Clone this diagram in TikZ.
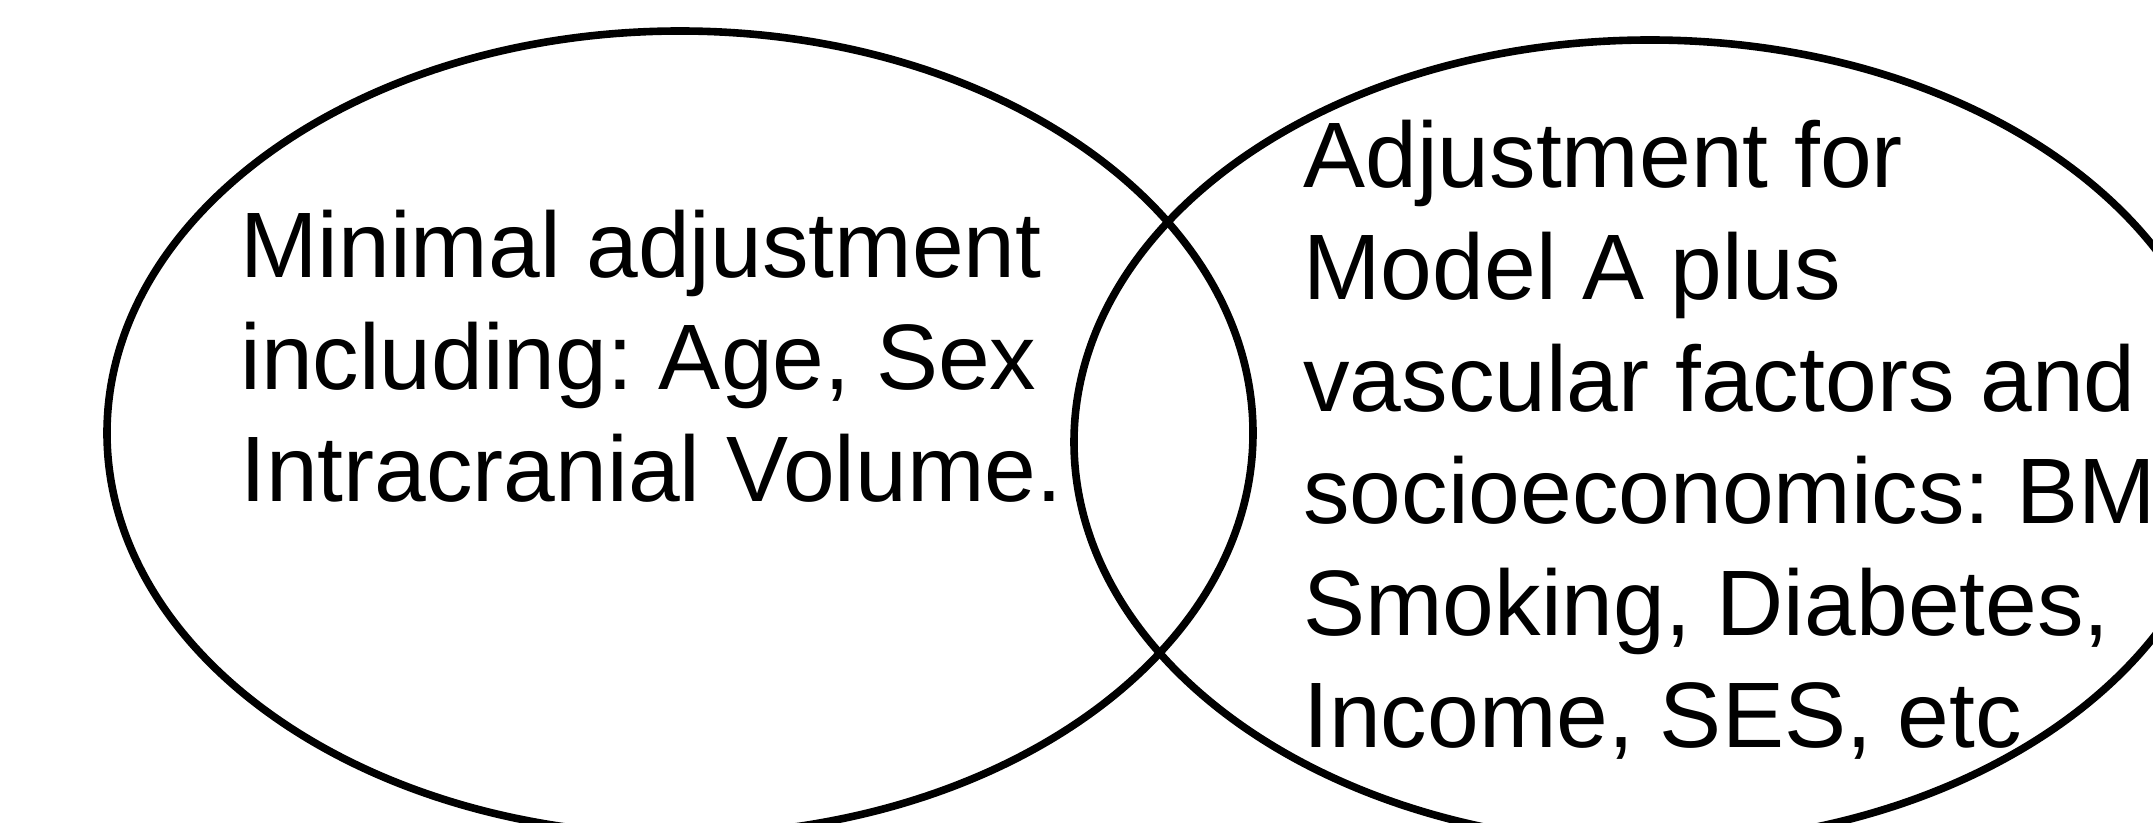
\documentclass[tikz,border=0pt]{standalone}
\usepackage{fontspec}
\setmainfont{Liberation Sans}
\frenchspacing
\begin{document}
\begin{tikzpicture}[x=0.5pt,y=-0.5pt,
    ring/.style={draw=black,line width=3.8pt},
    venntext/.style={align=left,inner sep=0pt,anchor=base west,font=\fontsize{46.5pt}{56pt}\selectfont}]
    \useasboundingbox (0,0) rectangle (2153,823);
    \clip (0,0) rectangle (2153,823);
    % the two models
    \draw[ring] (680,433) ellipse [x radius=286.5pt, y radius=201pt];
    \draw[ring] (1650,442) ellipse [x radius=288pt, y radius=201pt];
    % base of a multi-line node is its last line
    \node[venntext] (modelA) at (240,502) {Minimal adjustment\\including: Age, Sex\\Intracranial Volume.};
    \node[venntext] (modelB) at (1303,747) {Adjustment for\\Model A plus\\vascular factors and\\socioeconomics: BM\\Smoking, Diabetes,\\Income, SES, etc};
\end{tikzpicture}
\end{document}
